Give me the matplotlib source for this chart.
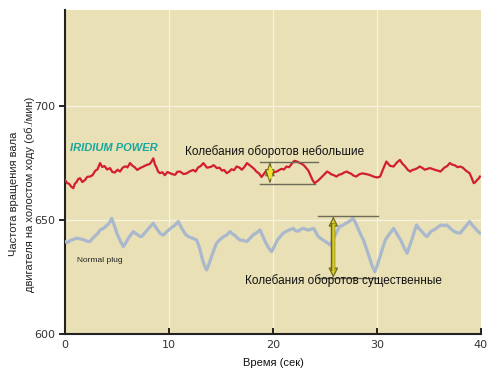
import matplotlib
matplotlib.use("Agg")
import matplotlib.pyplot as plt

plt.rcParams['font.family'] = ['Liberation Sans', 'DejaVu Sans']

# Iridium Power (red) trace
red_t = [0.0, 0.2, 0.4, 0.6, 0.8, 0.95, 1.1, 1.27, 1.44, 1.67, 1.9, 2.15, 2.4, 2.65, 2.9, 3.13,
         3.37, 3.58, 3.8, 4.05, 4.33, 4.55, 4.8, 5.05, 5.29, 5.55, 5.8, 6.0, 6.25, 6.47, 6.7,
         6.95, 7.21, 7.5, 7.8, 8.15, 8.35, 8.49, 8.65, 8.8, 8.95, 9.13, 9.35, 9.6, 9.85, 10.1,
         10.35, 10.6, 10.8, 11.06, 11.4, 11.7, 12.0, 12.34, 12.55, 12.8, 13.05, 13.3, 13.65,
         14.0, 14.3, 14.6, 14.85, 15.1, 15.3, 15.55, 15.8, 16.0, 16.25, 16.5, 16.75, 17.0,
         17.25, 17.5, 17.75, 18.0, 18.2, 18.4, 18.65, 18.9, 19.15, 19.4, 19.65, 19.9, 20.1,
         20.35, 20.55, 20.8, 21.05, 21.3, 21.55, 21.8, 22.05, 22.3, 22.55, 22.8, 23.0, 23.2,
         23.4, 23.6, 23.8, 24.0, 24.3, 24.6, 24.9, 25.2, 25.4, 25.6, 25.85, 26.1, 26.35, 26.6,
         26.85, 27.1, 27.3, 27.5, 27.75, 28.0, 28.3, 28.6, 28.95, 29.3, 29.55, 29.8, 30.05,
         30.3, 30.6, 30.9, 31.25, 31.6, 31.9, 32.2, 32.45, 32.7, 32.95, 33.2, 33.4, 33.6,
         33.85, 34.1, 34.35, 34.6, 34.85, 35.1, 35.35, 35.6, 35.85, 36.1, 36.3, 36.5, 36.75,
         37.0, 37.25, 37.5, 37.75, 38.0, 38.25, 38.5, 38.7, 38.9, 39.1, 39.3, 39.45, 39.6,
         39.75, 39.9]
red_v = [667.5, 666.2, 665.8, 664.6, 663.9, 665.9, 666.5, 667.9, 668.3, 666.6, 667.4, 668.9, 669.0, 669.6, 671.5, 672.2,
         674.9, 673.2, 673.6, 672.1, 672.7, 671.0, 670.8, 672.0, 671.2, 672.9, 673.5, 673.0, 674.9, 673.8, 673.1,
         671.9, 672.7, 673.3, 674.0, 674.5, 675.8, 677.0, 674.2, 673.0, 671.2, 670.5, 670.9, 669.6, 671.0, 670.5,
         670.0, 669.8, 671.1, 671.2, 670.1, 670.4, 671.3, 671.9, 671.2, 673.0, 673.6, 674.9, 672.9,
         673.2, 674.0, 672.7, 672.9, 671.6, 671.9, 670.5, 671.2, 672.2, 671.8, 673.4, 673.0, 672.0,
         673.2, 674.9, 674.0, 673.1, 672.3, 671.2, 670.4, 668.8, 670.3, 671.9, 670.9, 670.2, 670.9,
         671.2, 671.7, 672.4, 672.1, 673.4, 673.1, 674.6, 675.9, 675.6, 675.0, 674.5, 673.8, 672.7,
         671.6, 669.5, 667.5, 666.1, 667.1, 668.4, 669.8, 671.2, 670.7, 670.0, 669.6, 669.0, 669.8, 670.1,
         670.8, 671.2, 670.6, 670.3, 669.4, 669.0, 670.0, 670.4, 670.1, 669.7, 669.2, 668.8, 668.6,
         669.0, 672.4, 675.6, 673.7, 673.4, 675.1, 676.3, 674.6, 673.5, 672.0, 671.2, 671.9, 672.1,
         672.6, 673.4, 672.8, 672.0, 672.4, 672.7, 672.3, 671.9, 671.6, 671.2, 672.1, 673.0, 673.6,
         674.9, 674.2, 673.9, 673.1, 673.4, 672.9, 671.8, 671.1, 670.5, 668.4, 666.1, 666.5, 667.4,
         668.0, 669.0]

# Normal plug (blue) trace
blue_t = [0.0, 0.25, 0.5, 0.8, 1.12, 1.45, 1.8, 2.1, 2.4, 2.65, 2.9, 3.15, 3.37, 3.7, 4.0, 4.25,
          4.49, 4.75, 5.0, 5.3, 5.61, 5.85, 6.1, 6.35, 6.57, 6.8, 7.0, 7.2, 7.37, 7.7, 8.0, 8.25,
          8.49, 8.75, 9.0, 9.2, 9.46, 9.85, 10.2, 10.55, 10.9, 11.15, 11.4, 11.6, 11.86, 12.25,
          12.66, 12.95, 13.2, 13.4, 13.62, 13.85, 14.1, 14.35, 14.58, 14.9, 15.2, 15.55, 15.87,
          16.15, 16.4, 16.6, 16.83, 17.15, 17.47, 17.8, 18.1, 18.4, 18.75, 19.0, 19.3, 19.6,
          19.87, 20.15, 20.4, 20.7, 20.99, 21.25, 21.5, 21.7, 21.95, 22.15, 22.4, 22.65, 22.9,
          23.15, 23.4, 23.65, 23.9, 24.1, 24.3, 24.55, 24.8, 25.15, 25.5, 25.75, 26.0, 26.2,
          26.4, 26.7, 27.0, 27.35, 27.7, 27.95, 28.2, 28.45, 28.7, 29.0, 29.3, 29.55, 29.8,
          30.05, 30.3, 30.55, 30.8, 31.2, 31.6, 31.95, 32.3, 32.6, 32.9, 33.15, 33.4, 33.6,
          33.8, 34.05, 34.3, 34.55, 34.8, 35.0, 35.2, 35.45, 35.7, 35.95, 36.2, 36.45, 36.7,
          37.05, 37.4, 37.7, 38.0, 38.25, 38.5, 38.7, 38.9, 39.15, 39.4, 39.65, 39.9]
blue_v = [640.5, 640.1, 641.0, 641.4, 642.0, 641.7, 641.3, 640.7, 640.5, 641.9, 643.0, 644.1, 645.6, 646.3, 647.5, 648.6,
          650.7, 647.5, 644.0, 640.9, 638.3, 640.0, 642.0, 643.6, 644.9, 644.0, 643.5, 642.8, 642.7, 644.5, 646.0, 647.4,
          648.5, 646.6, 645.0, 643.8, 643.4, 645.1, 646.5, 647.6, 649.3, 647.0, 645.0, 643.6, 642.7, 642.0,
          641.2, 637.5, 633.0, 630.1, 628.1, 630.8, 634.0, 637.3, 639.8, 641.4, 642.5, 643.4, 644.9,
          643.7, 643.0, 641.9, 641.2, 641.0, 640.5, 642.0, 643.5, 644.3, 645.6, 643.0, 640.0, 637.6,
          636.1, 638.6, 641.0, 642.8, 644.2, 644.9, 645.5, 645.8, 646.3, 645.3, 645.0, 645.8, 646.3,
          645.9, 645.5, 645.9, 646.3, 644.8, 643.0, 642.0, 641.2, 640.2, 639.0, 641.1, 643.5, 645.3,
          647.1, 647.6, 648.5, 649.4, 650.7, 648.6, 646.0, 643.4, 641.2, 637.1, 633.0, 629.7, 627.3,
          630.4, 634.0, 637.8, 641.2, 643.9, 646.3, 643.6, 641.0, 637.9, 635.4, 638.8, 642.0, 645.1,
          647.8, 646.1, 645.0, 643.6, 642.7, 643.8, 645.0, 645.6, 646.3, 647.2, 647.8, 647.5, 647.8,
          646.3, 645.0, 644.4, 644.2, 645.7, 647.0, 648.1, 649.3, 647.8, 646.5, 645.2, 644.2]

x_ticks = [0, 10, 20, 30, 40]
y_ticks = [600, 650, 700]

fig = plt.figure(figsize=(4.89, 3.77), dpi=100)
ax = fig.add_axes([65/489, 43/377, 416/489, 324/377])
ax.set_facecolor('#e9e0b6')
fig.patch.set_facecolor('white')

ax.set_xlim(0, 40)
ax.set_ylim(600, 742)

for x in [10, 20, 30]:
    ax.axvline(x, color='#f7f3e2', lw=0.9, zorder=1)
for y in [650, 700]:
    ax.axhline(y, color='#f7f3e2', lw=0.9, zorder=1)

ax.plot(blue_t, blue_v, color='#a9b8cd', lw=2.3, zorder=3, solid_joinstyle='round')
ax.plot(red_t, red_v, color='#d21e2f', lw=1.6, zorder=4, solid_joinstyle='round')

# annotation lines (small fluctuation)
ax.plot([18.75, 24.3], [675.6, 675.6], color='#6e6a58', lw=1.0, zorder=5)
ax.plot([18.75, 24.0], [665.8, 665.8], color='#6e6a58', lw=1.0, zorder=5)
ax.annotate('', xy=(19.7, 665.8), xytext=(19.7, 675.6),
            arrowprops=dict(arrowstyle='<|-|>,head_length=0.9,head_width=0.3',
                            facecolor='#f0e030', edgecolor='#6b6420', lw=0.8,
                            mutation_scale=10, shrinkA=0, shrinkB=0), zorder=6)
ax.plot([19.7, 19.7], [668.5, 673.0], color='#f0e030', lw=2.5, zorder=6.5,
        solid_capstyle='butt')
# large fluctuation
ax.plot([24.3, 30.1], [651.5, 651.5], color='#6e6a58', lw=1.0, zorder=5)
ax.plot([24.3, 30.1], [624.7, 624.7], color='#6e6a58', lw=1.0, zorder=5)
ax.annotate('', xy=(25.8, 624.7), xytext=(25.8, 651.5),
            arrowprops=dict(arrowstyle='<|-|>,head_length=0.6,head_width=0.3',
                            facecolor='#d8cc22', edgecolor='#6b6420', lw=0.8,
                            mutation_scale=10, shrinkA=0, shrinkB=0), zorder=6)
ax.plot([25.8, 25.8], [627.5, 648.7], color='#6b6420', lw=3.2, zorder=6.2,
        solid_capstyle='butt')
ax.plot([25.8, 25.8], [627.5, 648.7], color='#d8cc22', lw=1.8, zorder=6.4,
        solid_capstyle='butt')

ax.text(0.5, 681.6, 'IRIDIUM POWER', color='#16a89c', fontsize=8, fontweight='bold',
        fontstyle='italic', va='center', ha='left', zorder=7)
ax.text(11.5, 679.8, 'Колебания оборотов небольшие', fontsize=8.5, va='center',
        ha='left', color='#111111', zorder=7)
ax.text(17.3, 623.5, 'Колебания оборотов существенные', fontsize=8.5, va='center',
        ha='left', color='#111111', zorder=7)
ax.text(1.15, 632.0, 'Normal plug', fontsize=6, va='center', ha='left',
        color='#222222', zorder=7)

ax.set_xticks(x_ticks)
ax.set_yticks(y_ticks)
ax.tick_params(axis='x', direction='in', length=4, width=1.2, labelsize=8,
               labelcolor='#333333', pad=4)
ax.tick_params(axis='y', direction='out', length=4, width=1.2, labelsize=8,
               labelcolor='#333333', pad=3)
for lab in ax.get_xticklabels() + ax.get_yticklabels():
    lab.set_family('DejaVu Sans')
for s in ['top', 'right']:
    ax.spines[s].set_visible(False)
for s in ['left', 'bottom']:
    ax.spines[s].set_linewidth(1.5)
    ax.spines[s].set_color('#222222')

ax.set_xlabel('Время (сек)', fontsize=8, color='#111111', labelpad=6)
fig.text(14/489, 1 - 194/377, 'Частота вращения вала', rotation=90, fontsize=8,
         ha='center', va='center', color='#222222')
fig.text(30/489, 1 - 194/377, 'двигателя на холостом ходу (об./мин)', rotation=90,
         fontsize=8, ha='center', va='center', color='#222222')

fig.savefig('out.png', dpi=100)
